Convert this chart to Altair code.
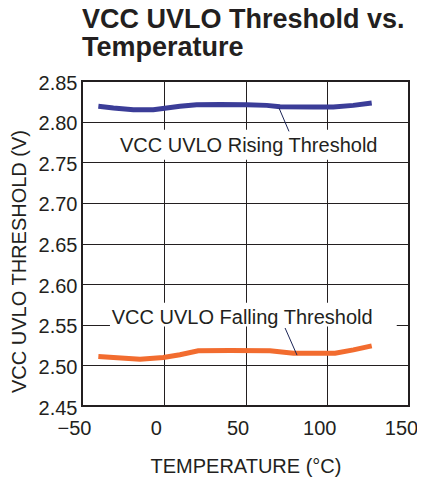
import altair as alt
import pandas as pd

# Rising threshold (V) vs temperature (°C)
rise_t = [-40.0, -30.8, -18.6, -6.4, 1.8, 9.9, 20.1, 34.4, 50.7, 63.0, 71.1, 91.5, 103.7, 115.9, 127.2]
rise_v = [2.8188, 2.8167, 2.8147, 2.8147, 2.8167, 2.8188, 2.8208, 2.8212, 2.8208, 2.8200, 2.8184, 2.8180, 2.8180, 2.8200, 2.8229]

# Falling threshold (V) vs temperature (°C)
fall_t = [-40.0, -30.8, -14.5, -0.3, 9.9, 21.1, 40.5, 65.0, 79.3, 91.5, 104.8, 116.0, 127.2]
fall_v = [2.5110, 2.5097, 2.5076, 2.5097, 2.5130, 2.5179, 2.5183, 2.5179, 2.5150, 2.5150, 2.5150, 2.5191, 2.5240]

labels = ["VCC UVLO Rising Threshold", "VCC UVLO Falling Threshold"]
label_t = [-26.8, -31.8]
label_v = [2.7626, 2.5507]
box_t1 = [-31.0, -32.9]
box_t2 = [139.6, 142.5]
box_v1 = [2.753, 2.548]
box_v2 = [2.790, 2.577]
lead_t1 = [70.5, 74.2]
lead_v1 = [2.8167, 2.5460]
lead_t2 = [76.6, 81.5]
lead_v2 = [2.7880, 2.5126]

x_ticks = [-50, 0, 50, 100, 150]
y_ticks = [2.45, 2.50, 2.55, 2.60, 2.65, 2.70, 2.75, 2.80, 2.85]

FONT = "Liberation Sans"
TXT = "#231f20"

rise_df = pd.DataFrame({"t": rise_t, "v": rise_v})
fall_df = pd.DataFrame({"t": fall_t, "v": fall_v})
ann_df = pd.DataFrame({
    "label": labels, "lt": label_t, "lv": label_v,
    "bt1": box_t1, "bt2": box_t2, "bv1": box_v1, "bv2": box_v2,
    "t1": lead_t1, "v1": lead_v1, "t2": lead_t2, "v2": lead_v2,
})

xs = alt.Scale(domain=[-50, 150], nice=False, zero=False)
ys = alt.Scale(domain=[2.45, 2.85], nice=False, zero=False)

xaxis = alt.Axis(values=x_ticks, title="TEMPERATURE (°C)", ticks=False, domain=False,
                 labelFlush=False, labelOffset=-8, labelPadding=12, titlePadding=18, grid=True)
yaxis = alt.Axis(values=y_ticks, format=".2f", title="VCC UVLO THRESHOLD (V)", ticks=False,
                 domain=False, labelFlush=False, labelPadding=5, labelOffset=2, grid=True,
                 titleX=-63, titleY=180, titleAlign="center", titleBaseline="middle", titleFontSize=20)

base_x = alt.X("t:Q", scale=xs, axis=xaxis)
base_y = alt.Y("v:Q", scale=ys, axis=yaxis)

boxes = alt.Chart(ann_df).mark_rect(fill="white").encode(
    x=alt.X("bt1:Q", scale=xs, axis=xaxis), x2="bt2:Q",
    y=alt.Y("bv1:Q", scale=ys, axis=yaxis), y2="bv2:Q",
)

rise = alt.Chart(rise_df).mark_line(color="#3b3d98", strokeWidth=5, strokeCap="butt").encode(
    x=base_x, y=base_y
)
fall = alt.Chart(fall_df).mark_line(color="#f26c2f", strokeWidth=5, strokeCap="butt").encode(
    x=base_x, y=base_y
)

leaders = alt.Chart(ann_df).mark_rule(color="#1b2456", strokeWidth=1).encode(
    x=alt.X("t1:Q", scale=xs, axis=xaxis), x2="t2:Q",
    y=alt.Y("v1:Q", scale=ys, axis=yaxis), y2="v2:Q",
)

texts = alt.Chart(ann_df).mark_text(align="left", baseline="alphabetic", fontSize=20,
                                    font=FONT, color=TXT).encode(
    x=alt.X("lt:Q", scale=xs, axis=xaxis),
    y=alt.Y("lv:Q", scale=ys, axis=yaxis),
    text="label:N",
)

chart = alt.layer(boxes, rise, fall, leaders, texts).properties(
    width=327, height=325,
    autosize=alt.AutoSizeParams(type="none"),
    padding={"left": 74, "top": 73, "right": 8, "bottom": 72},
    title=alt.TitleParams(
        text=["VCC UVLO Threshold vs.", "Temperature"],
        anchor="start", frame="group", font=FONT, fontSize=27, fontWeight="bold",
        lineHeight=28, color=TXT, offset=11,
    ),
).configure_view(
    stroke="#231f20", strokeWidth=2
).configure_axis(
    gridColor="#231f20", gridWidth=1, gridOpacity=1,
    labelFont=FONT, labelFontSize=20, labelColor=TXT,
    titleFont=FONT, titleFontSize=20, titleFontWeight="normal", titleColor=TXT,
)

chart.save("out.html", embed_options={"renderer": "svg", "actions": False})
